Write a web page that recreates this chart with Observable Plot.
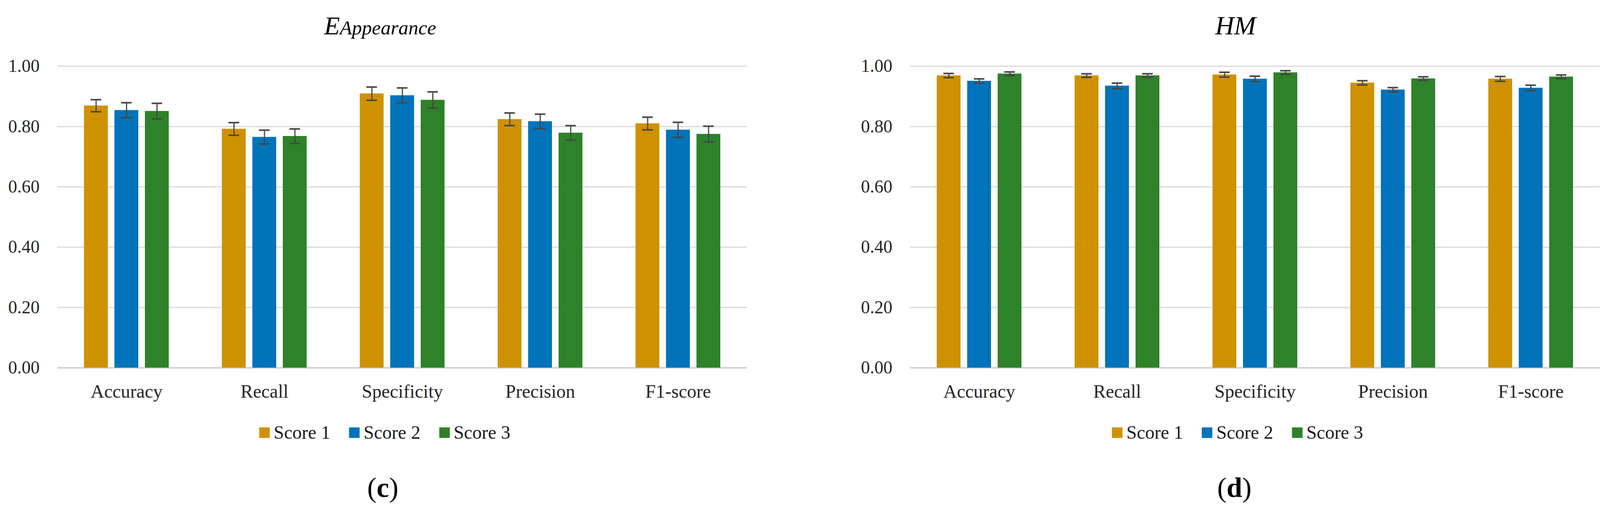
<!DOCTYPE html>
<html>
<head>
<meta charset="utf-8">
<script src="https://cdn.jsdelivr.net/npm/d3@7"></script>
<script src="https://cdn.jsdelivr.net/npm/@observablehq/plot@0.6"></script>
<style>
  html, body { margin: 0; padding: 0; background: #fff; }
  #page { position: relative; width: 4139px; height: 1331px; background: #fff; overflow: hidden;
          font-family: "Liberation Serif", "Times New Roman", serif; color: #000; }
  .abs { position: absolute; }
  .title { font-style: italic; white-space: nowrap; transform: translateX(-50%); }
  .legend { display: flex; align-items: center; white-space: nowrap; transform: translateX(-50%);
            font-size: 48px; line-height: 48px; color: #1a1a1a; }
  .legend .item { display: flex; align-items: center; margin: 0 24px; }
  .legend .sw { width: 27px; height: 27px; margin-right: 10px; }
  .caption { font-size: 72px; line-height: 72px; white-space: nowrap; transform: translateX(-50%); }
</style>
</head>
<body>
<div id="page"></div>
<script>
// ---------- data ----------
const metrics = ["Accuracy", "Recall", "Specificity", "Precision", "F1-score"];
const scores = ["Score 1", "Score 2", "Score 3"];
const colors = ["#CE9200", "#0073BA", "#2E8229"];
const yTicks = [0, 0.2, 0.4, 0.6, 0.8, 1.0];

// (c) E_Appearance
const appScore1 = [0.869, 0.792, 0.909, 0.824, 0.810];
const appScore2 = [0.854, 0.765, 0.903, 0.817, 0.789];
const appScore3 = [0.851, 0.768, 0.888, 0.779, 0.775];
const appErr1 = [0.020, 0.021, 0.022, 0.021, 0.021];
const appErr2 = [0.025, 0.023, 0.025, 0.024, 0.025];
const appErr3 = [0.026, 0.024, 0.027, 0.024, 0.026];

// (d) HM
const hmScore1 = [0.969, 0.969, 0.972, 0.945, 0.958];
const hmScore2 = [0.951, 0.935, 0.958, 0.922, 0.928];
const hmScore3 = [0.975, 0.969, 0.979, 0.959, 0.965];
const hmErr1 = [0.007, 0.006, 0.008, 0.007, 0.008];
const hmErr2 = [0.007, 0.009, 0.009, 0.007, 0.009];
const hmErr3 = [0.006, 0.006, 0.006, 0.006, 0.006];

// ---------- helpers ----------
function rowsFor(vals, errs) {
  return metrics.flatMap((m, i) => scores.map((s, j) => ({
    metric: m, score: s, value: vals[j][i], err: errs[j][i]
  })));
}

const BAND = 353;
function chart(rows, marginLeft) {
  const marginRight = 40;
  return Plot.plot({
    width: marginLeft + BAND * metrics.length + marginRight,
    height: 901,
    marginTop: 29,
    marginBottom: 100,
    marginLeft,
    marginRight,
    style: { fontFamily: "Liberation Serif, Times New Roman, serif", color: "#262626", background: "transparent", overflow: "visible" },
    fx: { domain: metrics, padding: 0 },
    x: { domain: scores, paddingInner: 0.22, paddingOuter: 0.87, axis: null },
    y: { domain: [0, 1] },
    color: { domain: scores, range: colors },
    marks: [
      Plot.gridY(yTicks.filter(t => t > 0), { stroke: "#D9D9D9", strokeOpacity: 1, strokeWidth: 3 }),
      Plot.ruleY([0], { stroke: "#D0D0D0", strokeWidth: 4 }),
      Plot.barY(rows, { fx: "metric", x: "score", y: "value", fill: "score" }),
      Plot.ruleX(rows, { fx: "metric", x: "score", y1: d => d.value - d.err, y2: d => d.value + d.err, stroke: "#474747", strokeWidth: 3 }),
      Plot.tickY(rows, { fx: "metric", x: "score", y: d => d.value + d.err, insetLeft: 17, insetRight: 17, stroke: "#474747", strokeWidth: 4 }),
      Plot.tickY(rows, { fx: "metric", x: "score", y: d => d.value - d.err, insetLeft: 17, insetRight: 17, stroke: "#474747", strokeWidth: 4 }),
      Plot.axisY({ ticks: yTicks, tickFormat: d => d.toFixed(2), tickSize: 0, tickPadding: 46, fontSize: 46, label: null }),
      Plot.axisFx({ anchor: "bottom", tickSize: 0, tickPadding: 42, fontSize: 48, label: null })
    ]
  });
}

function addDiv(cls, left, top, html) {
  const d = document.createElement("div");
  d.className = "abs " + cls;
  d.style.left = left + "px";
  d.style.top = top + "px";
  d.innerHTML = html;
  page.appendChild(d);
  return d;
}

function legend(centerX) {
  const d = addDiv("legend", centerX, 1083, "");
  scores.forEach((s, i) => {
    const it = document.createElement("div");
    it.className = "item";
    it.innerHTML = `<div class="sw" style="background:${colors[i]}"></div><span>${s}</span>`;
    d.appendChild(it);
  });
}

const page = document.getElementById("page");

// ---------- left panel (c) ----------
const t1 = addDiv("title", 973, 33, `<span style="font-size:66px;line-height:66px">E</span><span style="font-size:51px;line-height:66px">Appearance</span>`);
const w1 = document.createElement("div");
w1.className = "abs"; w1.style.left = "0px"; w1.style.top = "140px";
const c1 = chart(rowsFor([appScore1, appScore2, appScore3], [appErr1, appErr2, appErr3]), 147);
w1.style.width = c1.getAttribute("width") + "px";
w1.appendChild(c1);
page.appendChild(w1);
legend(985);
addDiv("caption", 980, 1212, `(<b>c</b>)`);

// ---------- right panel (d) ----------
addDiv("title", 3163, 32, `<span style="font-size:67px;line-height:67px">HM</span>`);
const w2 = document.createElement("div");
w2.className = "abs"; w2.style.left = "2070px"; w2.style.top = "140px";
const c2 = chart(rowsFor([hmScore1, hmScore2, hmScore3], [hmErr1, hmErr2, hmErr3]), 260);
w2.style.width = c2.getAttribute("width") + "px";
w2.appendChild(c2);
page.appendChild(w2);
legend(3168);
addDiv("caption", 3160, 1212, `(<b>d</b>)`);
</script>
</body>
</html>
